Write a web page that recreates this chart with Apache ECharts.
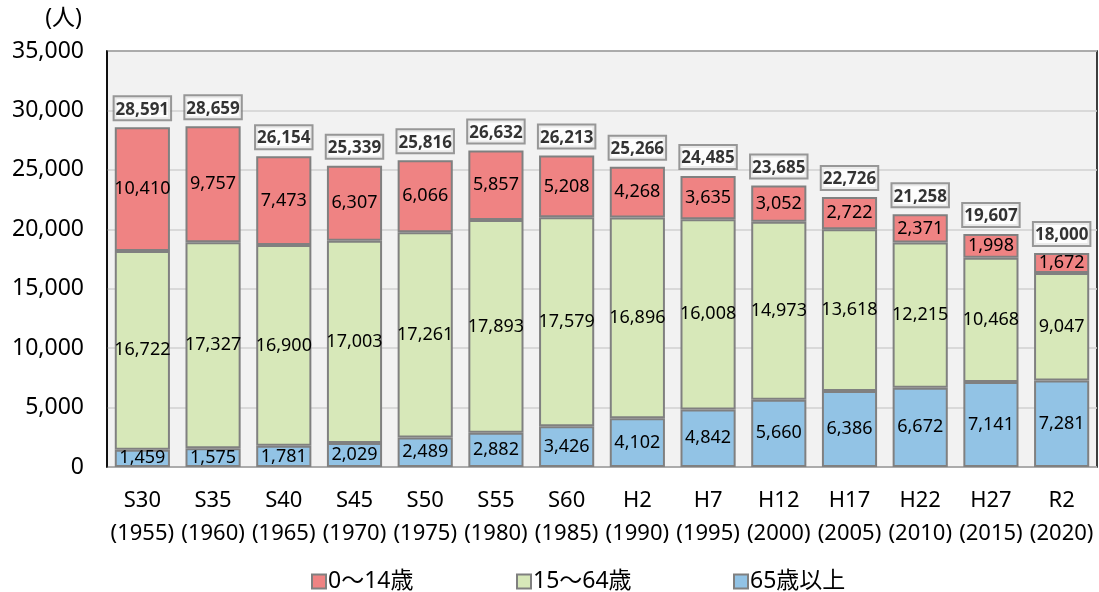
<!DOCTYPE html>
<html>
<head>
<meta charset="utf-8">
<script src="https://cdn.jsdelivr.net/npm/echarts@6/dist/echarts.min.js"></script>
<style>
  html, body { margin: 0; padding: 0; background: #fff; }
  #chart { width: 1099px; height: 592px; }
</style>
</head>
<body>
<div id="chart"></div>
<script>
const categories = ["S30\n(1955)", "S35\n(1960)", "S40\n(1965)", "S45\n(1970)", "S50\n(1975)", "S55\n(1980)", "S60\n(1985)",
  "H2\n(1990)", "H7\n(1995)", "H12\n(2000)", "H17\n(2005)", "H22\n(2010)", "H27\n(2015)", "R2\n(2020)"];
const young = [10410, 9757, 7473, 6307, 6066, 5857, 5208, 4268, 3635, 3052, 2722, 2371, 1998, 1672];
const working = [16722, 17327, 16900, 17003, 17261, 17893, 17579, 16896, 16008, 14973, 13618, 12215, 10468, 9047];
const elderly = [1459, 1575, 1781, 2029, 2489, 2882, 3426, 4102, 4842, 5660, 6386, 6672, 7141, 7281];
const totals = [28591, 28659, 26154, 25339, 25816, 26632, 26213, 25266, 24485, 23685, 22726, 21258, 19607, 18000];
const seriesNames = ["0～14歳", "15～64歳", "65歳以上"];

const FONT = "'Noto Sans', 'Noto Sans CJK JP', sans-serif";
const fmt = v => v.toLocaleString("en-US");

const chart = echarts.init(document.getElementById("chart"));

const segLabel = {
  show: true,
  position: "inside",
  color: "#000",
  fontSize: 18,
  fontFamily: FONT,
  formatter: p => fmt(p.value)
};

function barSeries(name, data, color) {
  return {
    name,
    type: "bar",
    stack: "pop",
    data,
    barCategoryGap: "22%",
    itemStyle: { color, borderColor: "#808080", borderWidth: 2 },
    label: segLabel
  };
}

// one legend per item so each sits where the reference puts it
const legendLeft = [306, 511, 728];
const legends = seriesNames.map((n, i) => ({
  top: 565,
  left: legendLeft[i],
  itemWidth: 14,
  itemHeight: 14,
  itemGap: 4,
  icon: "rect",
  textStyle: { fontSize: 23, color: "#000", fontFamily: FONT, padding: [0, 0, 0, -3] },
  data: [n]
}));

chart.setOption({
  animation: false,
  textStyle: { fontFamily: FONT },
  grid: {
    left: 107, right: 2, top: 51, bottom: 125,
    show: true,
    backgroundColor: "#f2f2f2",
    borderColor: "#000",
    borderWidth: 1.5
  },
  legend: legends,
  xAxis: {
    type: "category",
    data: categories,
    axisLine: { show: false },
    axisTick: { show: false },
    axisLabel: { interval: 0, color: "#000", fontSize: 22, lineHeight: 33, margin: 17, fontFamily: FONT }
  },
  yAxis: {
    type: "value",
    min: 0,
    max: 35000,
    interval: 5000,
    name: "(人)",
    nameLocation: "end",
    nameGap: 21,
    nameTextStyle: { color: "#000", fontSize: 23, align: "right", padding: [0, 25, 0, 0] },
    axisLine: { show: true, lineStyle: { color: "#000", width: 1.5 } },
    axisTick: { show: false },
    splitLine: { lineStyle: { color: "#d0d0d0", width: 1.5 } },
    axisLabel: { color: "#000", fontSize: 23, margin: 23, formatter: v => fmt(v) }
  },
  series: [
    barSeries(seriesNames[2], elderly, "#92c3e5"),
    barSeries(seriesNames[1], working, "#d7e8b9"),
    barSeries(seriesNames[0], young, "#ef8383"),
    {
      name: "total",
      type: "scatter",
      data: totals,
      symbolSize: 0,
      silent: true,
      label: {
        show: true,
        position: "top",
        distance: 8,
        color: "#000",
        fontWeight: "bold",
        fontSize: 17,
        fontFamily: FONT,
        backgroundColor: "#fff",
        borderColor: "#808080",
        borderWidth: 2,
        padding: [4, 1, 1, 1],
        formatter: p => fmt(p.value)
      }
    }
  ]
});
</script>
</body>
</html>
